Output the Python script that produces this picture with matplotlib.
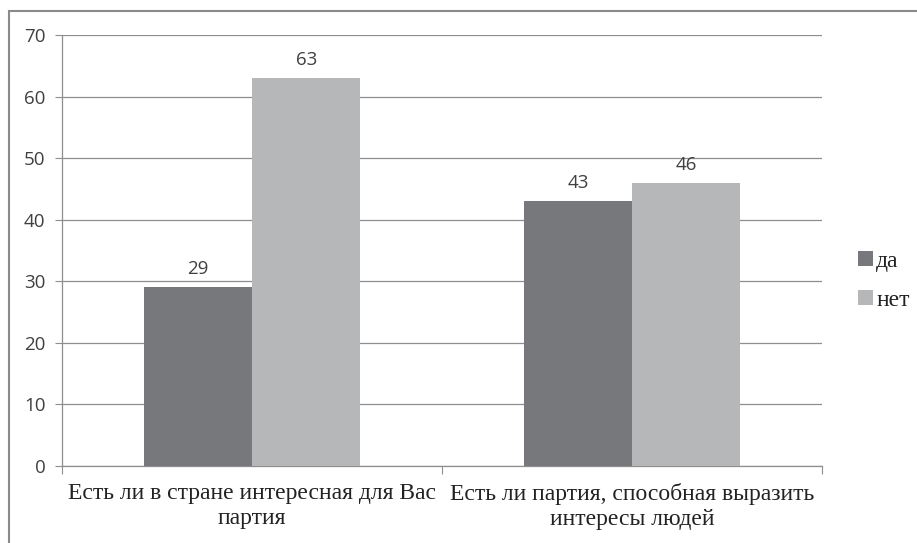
import matplotlib.pyplot as plt
import matplotlib.font_manager as fm
import numpy as np
from matplotlib.patches import Rectangle

categories = ['Есть ли в стране интересная для Вас\nпартия',
              'Есть ли партия, способная выразить\nинтересы людей']
series_names = ['да', 'нет']
da_values = [29, 43]
net_values = [63, 46]
yticks = [0, 10, 20, 30, 40, 50, 60, 70]

dark = '#77787b'
light = '#b6b7b9'
grid_col = '#8e8e8e'
text_col = '#404040'

# make sure a Times-like serif font is used for the Cyrillic labels
serif = ['DejaVu Serif']
found = [p for p in fm.findSystemFonts() if 'LiberationSerif-Regular' in p]
if found:
    fm.fontManager.addfont(found[0])
    serif = [fm.FontProperties(fname=found[0]).get_name(), 'DejaVu Serif']

fig = plt.figure(figsize=(9.17, 5.43), dpi=100)
ax = fig.add_axes([0.0676, 0.1418, 0.8288, 0.7937])

# outer chart border (clipped on right/bottom like in the scan)
fig.patches.append(Rectangle((9 / 917, -0.05), 1.1, 1 - 11 / 543 + 0.05,
                             transform=fig.transFigure, fill=False,
                             edgecolor='#8a8a8a', linewidth=1.5))

x = np.arange(len(categories))
w = 0.285
b1 = ax.bar(x - w / 2, da_values, w, color=dark, label=series_names[0], zorder=3)
b2 = ax.bar(x + w / 2, net_values, w, color=light, label=series_names[1], zorder=3)

for bars in (b1, b2):
    for r in bars:
        ax.text(r.get_x() + r.get_width() / 2, r.get_height() + 1.5,
                f'{int(r.get_height())}', ha='center', va='bottom',
                fontsize=13.5, color=text_col, family='Open Sans')

ax.set_xlim(-0.5, 1.5)
ax.set_ylim(0, 70)
ax.set_yticks(yticks)
ax.set_yticklabels([str(t) for t in yticks], fontsize=13.5, color=text_col,
                   family='Open Sans')
ax.yaxis.grid(True, color=grid_col, linewidth=0.9, zorder=0)
ax.set_axisbelow(True)

ax.set_xticks([-0.5, 0.5, 1.5])
ax.set_xticklabels([])
ax.tick_params(axis='x', length=6, color=grid_col, direction='out')
ax.tick_params(axis='y', length=5, color=grid_col, direction='out', pad=7)
for i, c in enumerate(categories):
    ax.text(x[i], -2.8, c, ha='center', va='top', fontsize=17,
            family=serif, color='#222222', linespacing=1.25)

for s in ('top', 'right'):
    ax.spines[s].set_visible(False)
for s in ('left', 'bottom'):
    ax.spines[s].set_color(grid_col)
    ax.spines[s].set_linewidth(0.9)

leg = ax.legend(loc='center left', bbox_to_anchor=(1.02, 0.43), frameon=False,
                prop={'family': serif, 'size': 17},
                handlelength=0.6, handleheight=0.6, handletextpad=0.15,
                labelspacing=0.75)
for t in leg.get_texts():
    t.set_color('#222222')

fig.savefig('out.png', dpi=100)
